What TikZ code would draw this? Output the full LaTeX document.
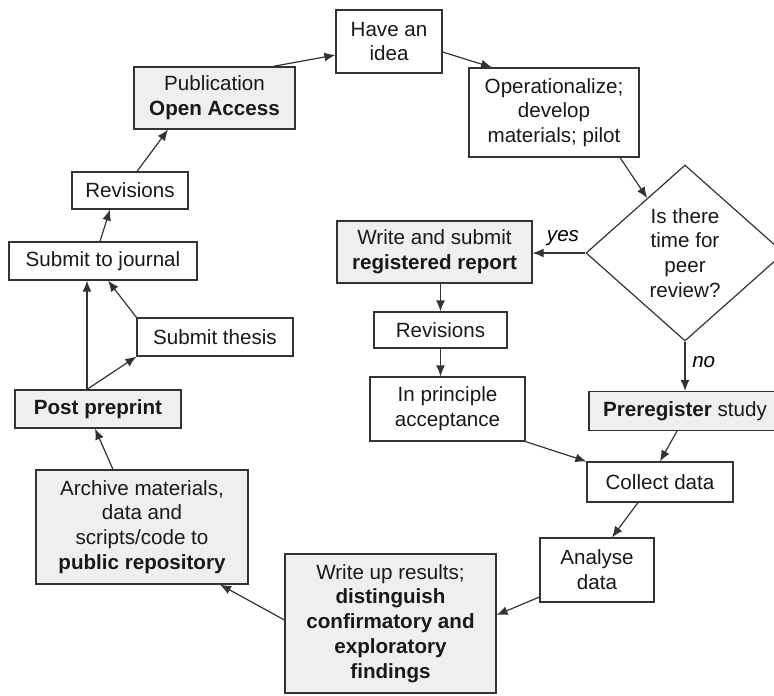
\documentclass[tikz,border=0pt]{standalone}
\usepackage{fontspec}
\setmainfont{Liberation Sans}
\usepackage{tikz}
\usetikzlibrary{calc,shapes,arrows.meta}
\definecolor{boxgray}{HTML}{EFEFEF}
\definecolor{linegray}{HTML}{333333}
\tikzset{box/.style={draw=linegray,fill=white,rectangle,align=center,inner sep=0pt,text=black!90,line width=0.6pt},
gbox/.style={box,fill=boxgray},
ask/.style={draw=linegray,diamond,aspect=1.125,align=center,inner sep=0pt,text=black!90,line width=0.6pt,minimum width=99pt,minimum height=88pt}}
\tikzstyle{arrow} = [draw=linegray,line width=0.6pt,-{Latex[length=5.5pt,width=4.5pt]}]

\begin{document}
\begin{tikzpicture}[x=0.5pt,y=-0.5pt,font=\fontsize{10.3}{12.4}\selectfont]
	\useasboundingbox (0,0) rectangle (774,695);

	\node[box,minimum width=53pt,minimum height=31.5pt] (idea) at (389,41.5) {Have an\\idea};
	\node[gbox,minimum width=80.5pt,minimum height=31pt] (pub) at (214.5,98) {Publication\\\textbf{Open Access}};
	\node[box,minimum width=85pt,minimum height=44.5pt] (oper) at (554,112.5) {Operationalize;\\develop\\materials; pilot};
	\node[ask] (q) at (685,253) {Is there\\time for\\peer\\review?};
	\node[gbox,minimum width=97.5pt,minimum height=31pt] (write) at (434.5,252) {Write and submit\\\textbf{registered report}};
	\node[box,minimum width=66.5pt,minimum height=18pt] (rev2) at (440.5,330) {Revisions};
	\node[box,minimum width=77.5pt,minimum height=32pt] (principle) at (447.5,409) {In principle\\acceptance};
	\node[gbox,minimum width=106pt,minimum height=19.5pt] (prereg) at (695,411) {\textbf{Preregister} study\hspace{10pt}};
	\node[box,minimum width=73pt,minimum height=20pt] (collect) at (660,482) {Collect data};
	\node[box,minimum width=57pt,minimum height=32pt] (analyse) at (597,570) {Analyse\\data};
	\node[gbox,minimum width=105.5pt,minimum height=69.5pt] (writeup) at (390.5,623.5) {Write up results;\\\textbf{distinguish}\\\textbf{confirmatory and}\\\textbf{exploratory}\\\textbf{findings}};
	\node[gbox,minimum width=106pt,minimum height=57pt] (archive) at (142,527) {Archive materials,\\data and\\scripts/code to\\\textbf{public repository}};
	\node[gbox,minimum width=83pt,minimum height=19pt] (preprint) at (98,409) {\textbf{Post preprint}};
	\node[box,minimum width=78pt,minimum height=19pt] (thesis) at (215,337) {Submit thesis};
	\node[box,minimum width=94pt,minimum height=19pt] (journal) at (103,261) {Submit to journal};
	\node[box,minimum width=58pt,minimum height=18.5pt] (rev1) at (130,190.5) {Revisions};

	\draw[arrow] ($(pub.north)+(58.5,0)$) -- ($(idea.west)+(0,13.5)$);
	\draw[arrow] ($(idea.east)+(0,10.5)$) -- ($(oper.north)+(-62,0)$);
	\draw[arrow] ($(oper.south)+(66,0)$) -- ($(q.west)!0.62!(q.north)$);
	\draw[arrow] (q.west) -- (q.west -| write.east) node[midway,above,xshift=2pt] {\textit{yes}};
	\draw[arrow] (write.south -| rev2.north) -- (rev2.north);
	\draw[arrow] (rev2.south) -- (rev2.south |- principle.north);
	\draw[arrow] (q.south) -- (q.south |- prereg.north) node[pos=0.42,right] {\textit{no}};
	\draw[arrow] ($(prereg.south)+(-18,0)$) -- (collect.north);
	\draw[arrow] (principle.south east) -- (collect.north west);
	\draw[arrow] ($(collect.south)+(-22,0)$) -- ($(analyse.north)+(15,0)$);
	\draw[arrow] ($(analyse.west)+(0,27)$) -- ($(writeup.east)+(0,-8.5)$);
	\draw[arrow] ($(writeup.west)+(0,-3.5)$) -- ($(archive.south)+(78,0)$);
	\draw[arrow] ($(archive.north)+(-29,0)$) -- ($(preprint.south)+(-3,0)$);
	\coordinate (fork) at ($(preprint.north)+(-11,0)$);
	\draw[arrow] (fork) -- (fork |- journal.south);
	\draw[arrow] (fork) -- (thesis.south west);
	\draw[arrow] (thesis.north west) -- ($(journal.south)+(5,0)$);
	\draw[arrow] ($(journal.north)+(-3,0)$) -- ($(rev1.south)+(-20,0)$);
	\draw[arrow] ($(rev1.north)+(7,0)$) -- ($(pub.south)+(-46.5,0)$);
\end{tikzpicture}
\end{document}
